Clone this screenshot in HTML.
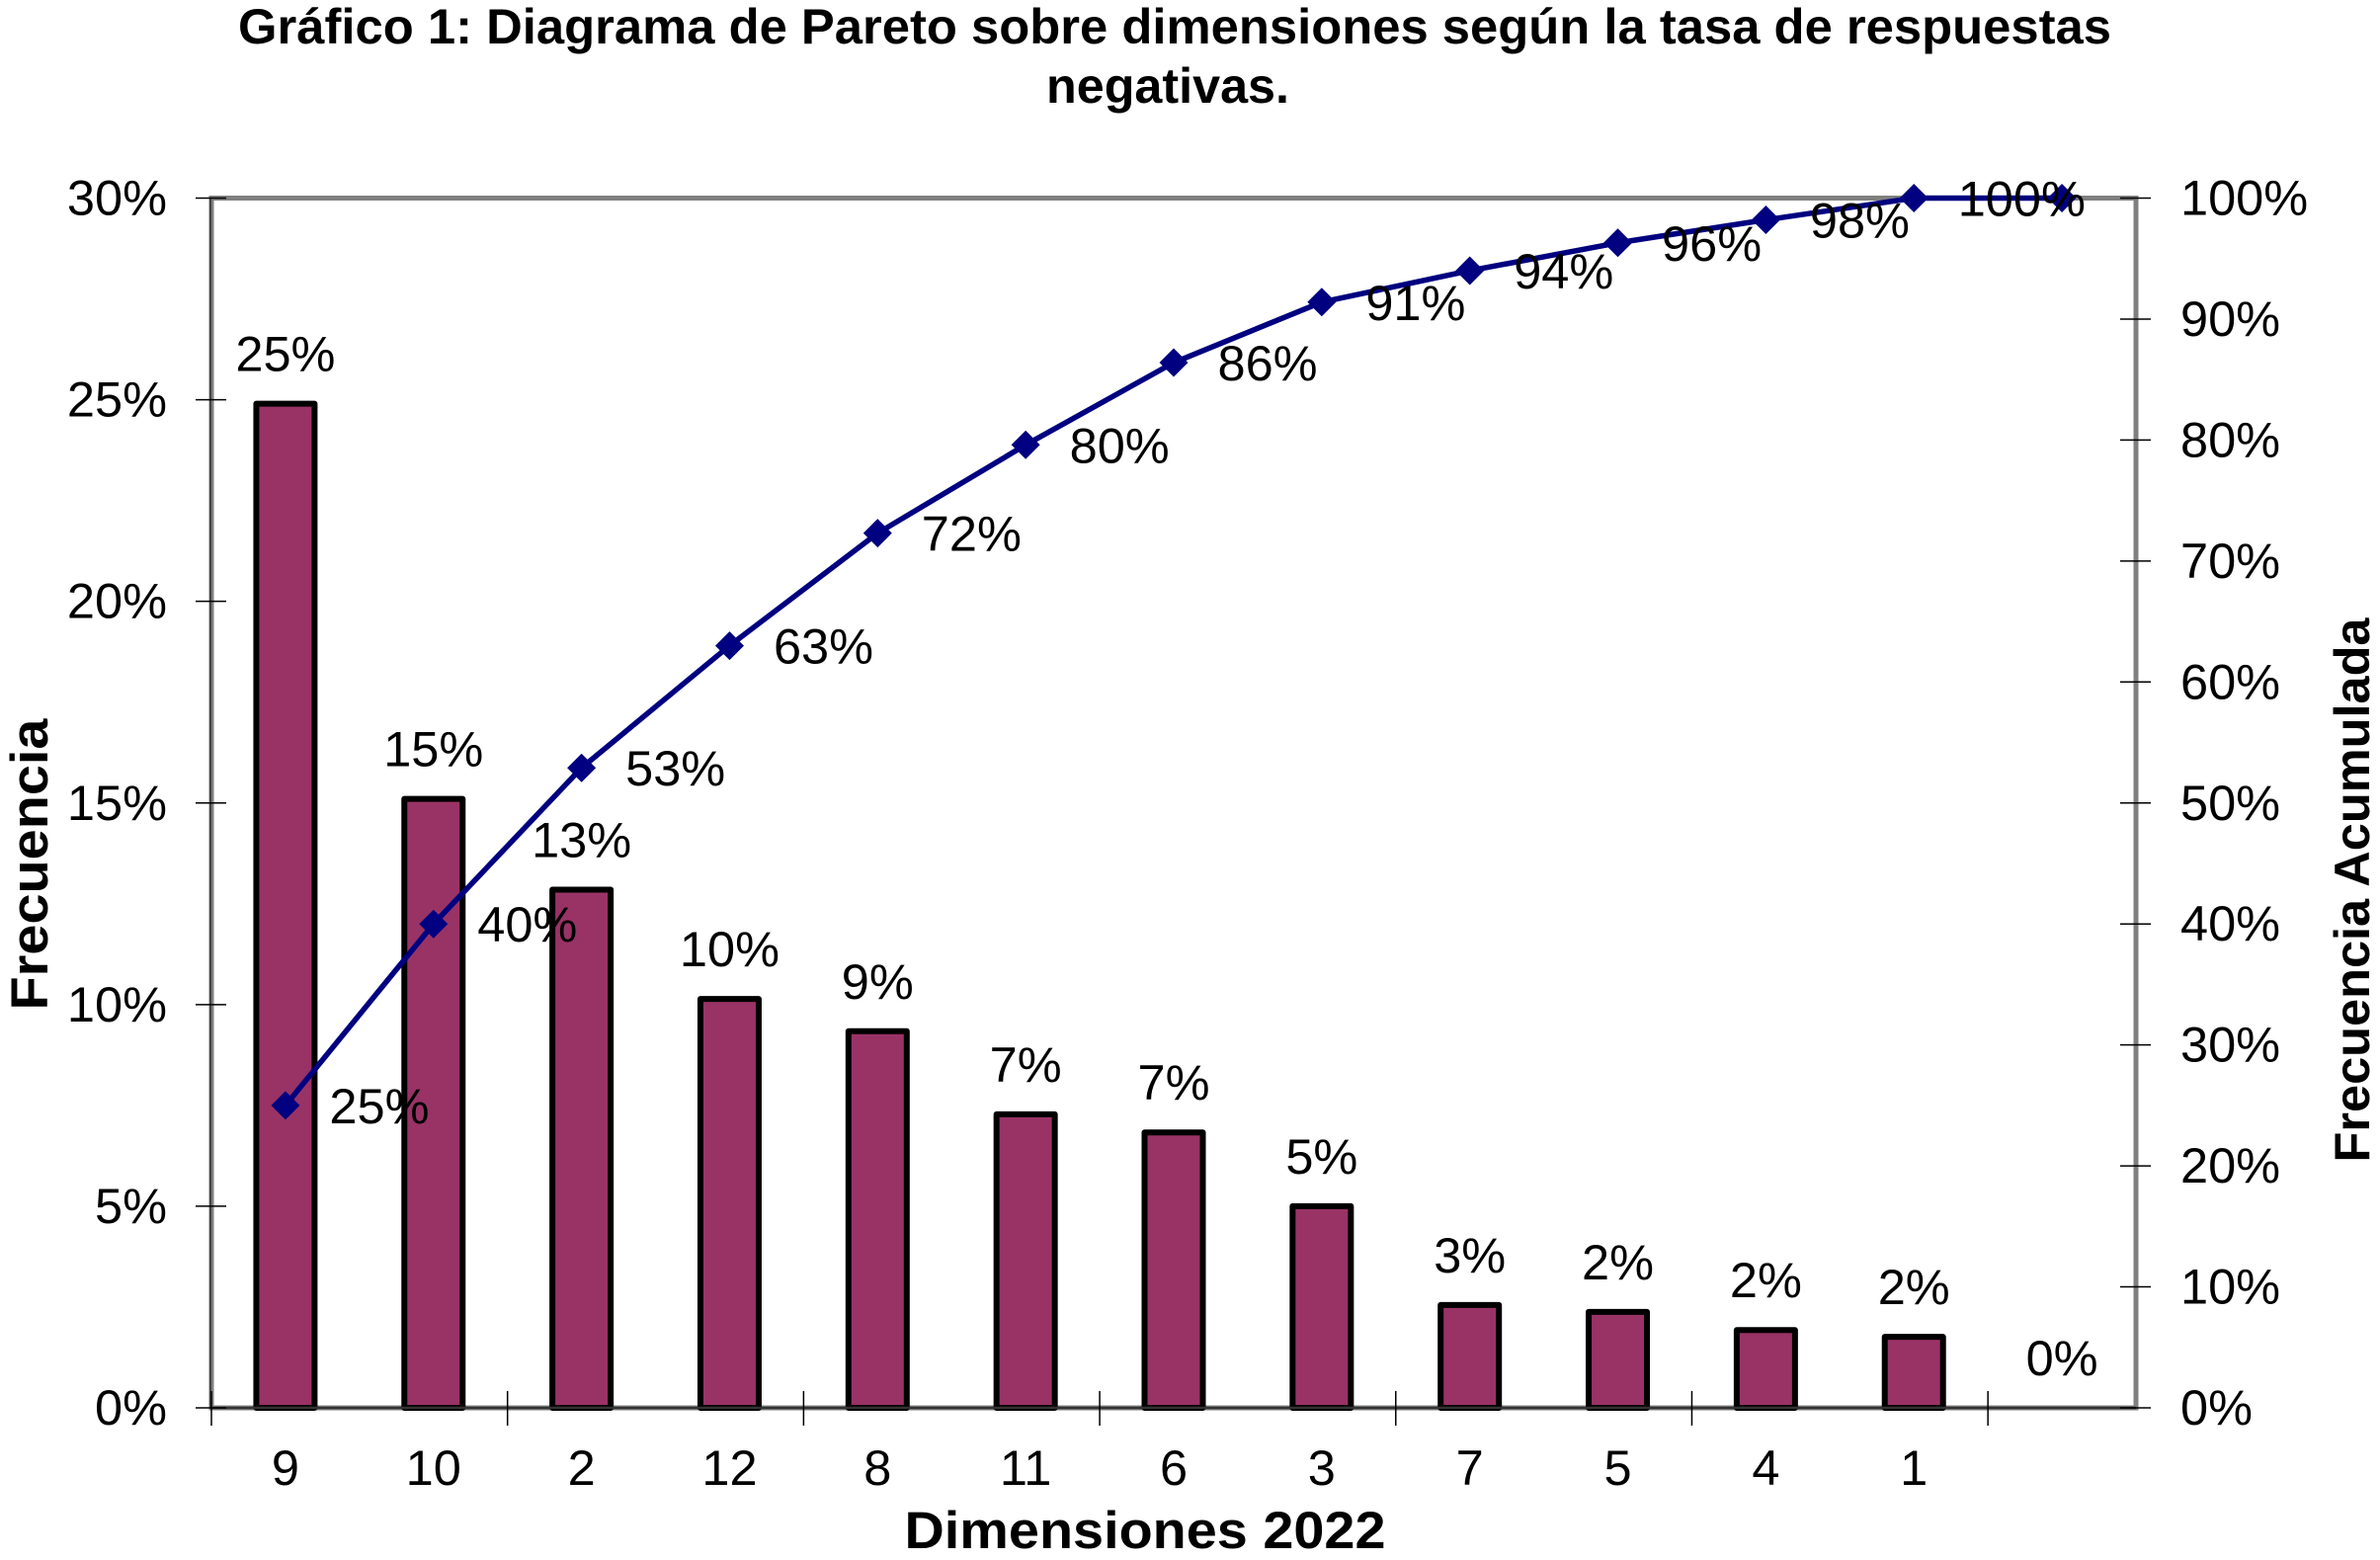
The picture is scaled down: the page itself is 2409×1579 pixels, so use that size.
<!DOCTYPE html>
<html lang="es">
<head>
<meta charset="utf-8">
<title>Diagrama de Pareto</title>
<style>
html,body{margin:0;padding:0;background:#fff;width:2409px;height:1579px;overflow:hidden}
svg{display:block}
text{font-family:"Liberation Sans",Arial,sans-serif;fill:#000}
</style>
</head>
<body>
<svg id="chart" xmlns="http://www.w3.org/2000/svg" width="2409" height="1579" viewBox="0 0 2409 1579">
  <rect x="0" y="0" width="2409" height="1579" fill="#ffffff"/>
  <text x="1189" y="44" text-anchor="middle" font-size="50" font-weight="700" textLength="1896" lengthAdjust="spacingAndGlyphs">Gráfico 1: Diagrama de Pareto sobre dimensiones según la tasa de respuestas</text>
  <text x="1182" y="104" text-anchor="middle" font-size="50" font-weight="700" textLength="246" lengthAdjust="spacingAndGlyphs">negativas.</text>
  <rect x="214" y="200.5" width="1948" height="1224.5" fill="none" stroke="#808080" stroke-width="5"/>
  <g id="bars"></g>
  <g id="axes"></g>
  <g id="line"></g>
  <g id="labels"></g>
  <text x="1159" y="1567" text-anchor="middle" font-size="53" font-weight="700" textLength="487" lengthAdjust="spacingAndGlyphs">Dimensiones 2022</text>
  <text transform="translate(48 875) rotate(-90)" text-anchor="middle" font-size="53" font-weight="700" textLength="295" lengthAdjust="spacingAndGlyphs">Frecuencia</text>
  <text transform="translate(2398 901) rotate(-90)" text-anchor="middle" font-size="50" font-weight="700" textLength="551" lengthAdjust="spacingAndGlyphs">Frecuencia Acumulada</text>
</svg>
<script>
const categories = ['9','10','2','12','8','11','6','3','7','5','4','1',''];
const frequency = [24.9,15.1,12.85,10.14,9.34,7.28,6.83,5.0,2.55,2.38,1.93,1.76,0];
const frequencyLabels = ['25%','15%','13%','10%','9%','7%','7%','5%','3%','2%','2%','2%','0%'];
const cumulative = [25,40,52.9,63,72.3,79.6,86.4,91.4,94,96.3,98.2,100,100];
const cumulativeLabels = ['25%','40%','53%','63%','72%','80%','86%','91%','94%','96%','98%','100%',''];
const leftTicks = [0,5,10,15,20,25,30];
const leftTickLabels = ['0%','5%','10%','15%','20%','25%','30%'];
const rightTicks = [0,10,20,30,40,50,60,70,80,90,100];
const rightTickLabels = ['0%','10%','20%','30%','40%','50%','60%','70%','80%','90%','100%'];

const NS = 'http://www.w3.org/2000/svg';
const plotLeft = 214, plotRight = 2162, plotTop = 200.5, plotBottom = 1425;
const leftMax = 30, rightMax = 100;
const step = (plotRight - plotLeft) / categories.length;
function xCenter(i) { return plotLeft + step * (i + 0.5); }
function xEdge(i) { return plotLeft + step * i; }
function yLeft(v) { return plotBottom - (v / leftMax) * (plotBottom - plotTop); }
function yRight(v) { return plotBottom - (v / rightMax) * (plotBottom - plotTop); }
function make(tag, parent, attrs, content) {
  const n = document.createElementNS(NS, tag);
  for (const k in attrs) n.setAttribute(k, attrs[k]);
  if (content !== undefined) n.textContent = content;
  parent.appendChild(n);
  return n;
}
const barsG = document.getElementById('bars');
const axesG = document.getElementById('axes');
const lineG = document.getElementById('line');
const labelsG = document.getElementById('labels');
const barWidth = 59, fontSize = 50.5;

make('line', axesG, {x1: plotLeft - 1, y1: plotBottom, x2: plotRight, y2: plotBottom, stroke: '#333', 'stroke-width': 2.5});
make('line', axesG, {x1: plotLeft - 1, y1: plotTop, x2: plotLeft - 1, y2: plotBottom, stroke: '#444', 'stroke-width': 2});

frequency.forEach(function (v, i) {
  if (v <= 0) return;
  const el = make('rect', barsG, {x: xCenter(i) - barWidth / 2, y: yLeft(v), width: barWidth, height: plotBottom - yLeft(v), fill: '#993366', stroke: '#000', 'stroke-width': 6, 'stroke-linejoin': 'round'});
  
  
});

leftTicks.forEach(function (v, i) {
  const y = yLeft(v);
  const t = make('line', axesG, {x1: plotLeft - 16, y1: y, x2: plotLeft + 15, y2: y, stroke: '#000', 'stroke-width': 1.5});
  
  
  const l = make('text', axesG, {x: 169, y: y + 17, 'text-anchor': 'end', 'font-size': fontSize}, leftTickLabels[i]);
  
  
});

rightTicks.forEach(function (v, i) {
  const y = yRight(v);
  const t = make('line', axesG, {x1: plotRight - 16, y1: y, x2: plotRight + 15, y2: y, stroke: '#000', 'stroke-width': 1.5});
  
  
  const l = make('text', axesG, {x: 2207, y: y + 17, 'font-size': fontSize}, rightTickLabels[i]);
  
  
});

categories.forEach(function (c, i) {
  if (i % 2 === 0) {
    const t = make('line', axesG, {x1: xEdge(i), y1: plotBottom - 17, x2: xEdge(i), y2: plotBottom + 18, stroke: '#000', 'stroke-width': 1.5});
    
    
  }
  if (c !== '') {
    const l = make('text', axesG, {x: xCenter(i), y: 1503, 'text-anchor': 'middle', 'font-size': fontSize}, c);
    
    
  }
});

const path = make('polyline', lineG, {points: cumulative.map(function (v, i) { return xCenter(i) + ',' + yRight(v); }).join(' '), fill: 'none', stroke: '#000080', 'stroke-width': 5.5, 'stroke-linejoin': 'round'});



cumulative.forEach(function (v, i) {
  const x = xCenter(i), y = yRight(v), r = 14.5;
  const m = make('polygon', lineG, {points: [x, y - r, x + r, y, x, y + r, x - r, y].join(' '), fill: '#000080'});
  
  
  if (cumulativeLabels[i] !== '') {
    const l = make('text', labelsG, {x: x + 44.5, y: y + 18, 'font-size': fontSize}, cumulativeLabels[i]);
    
    
  }
});

frequency.forEach(function (v, i) {
  const l = make('text', labelsG, {x: xCenter(i), y: yLeft(v) - 33, 'text-anchor': 'middle', 'font-size': fontSize}, frequencyLabels[i]);
  
  
});
</script>
</body>
</html>
